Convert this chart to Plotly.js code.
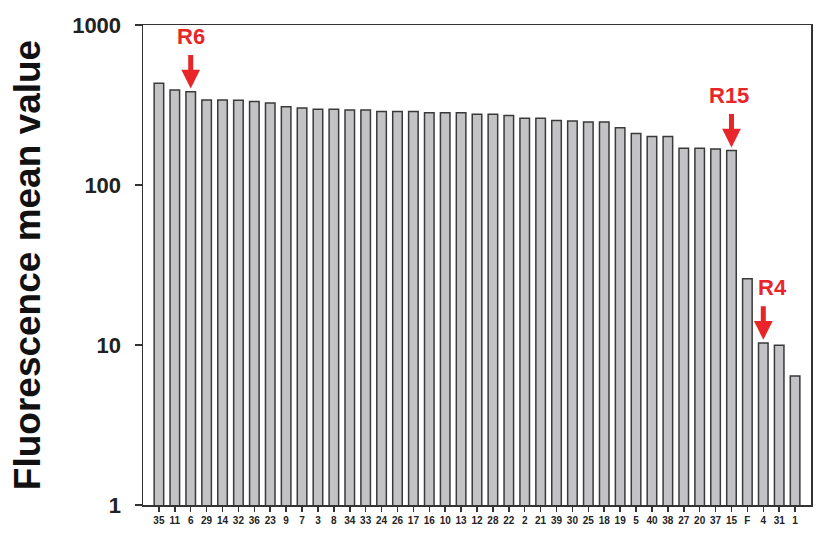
<!DOCTYPE html>
<html>
<head>
<meta charset="utf-8">
<script src="https://cdn.plot.ly/plotly-3.0.1.min.js"></script>
<style>html,body{margin:0;padding:0;background:#fff;}#chart{width:816px;height:534px;}</style>
</head>
<body>
<div id="chart"></div>
<script>
const categories = ["35","11","6","29","14","32","36","23","9","7","3","8","34","33","24","26","17","16","10","13","12","28","22","2","21","39","30","25","18","19","5","40","38","27","20","37","15","F","4","31","1"];
const values = [432,392,383,340,340,338,333,326,308,303,298,298,294,294,288,288,288,283,283,283,277,277,272,261,261,253,251,248,248,228,210,201,201,170,170,168,164,25.9,10.3,9.95,6.4];
const yTickVals = [1,10,100,1000];
const yTickText = ["1","10","100","1000"];
const marked = [
  {cat:"6", label:"R6", dx:0},
  {cat:"15", label:"R15", dx:-2},
  {cat:"4", label:"R4", dx:9}
];

const red = "#e8262a";
const annotations = [];
marked.forEach(m => {
  const idx = categories.indexOf(m.cat);
  const v = values[idx];
  const tip = Math.log10(v) + 0.02;
  annotations.push({
    x: idx, y: tip, xref: "x", yref: "y",
    showarrow: true, arrowhead: 2, arrowsize: 0.75, arrowwidth: 5,
    arrowcolor: red, ax: 0, ay: -35, text: ""
  });
  annotations.push({
    x: idx, y: tip, xref: "x", yref: "y",
    showarrow: false, text: "<b>" + m.label + "</b>",
    yshift: 52, xshift: m.dx,
    font: {family: "Liberation Sans, Arial, sans-serif", size: 22, color: red}
  });
});

const trace = {
  type: "bar",
  x: categories,
  y: values,
  marker: {color: "#c3c3c5", line: {color: "#3a3a3a", width: 1.5}},
  hoverinfo: "x+y"
};

const layout = {
  width: 816, height: 534,
  margin: {l: 143, r: 5, t: 25, b: 29},
  paper_bgcolor: "#fff", plot_bgcolor: "#fff",
  bargap: 0.4,
  showlegend: false,
  font: {family: "Liberation Sans, Arial, sans-serif", color: "#222"},
  xaxis: {
    type: "category", range: [-1, categories.length],
    showline: true, linecolor: "#333", linewidth: 1.5, mirror: true,
    ticks: "outside", ticklen: 5, tickcolor: "#333", tickwidth: 1.5,
    tickfont: {size: 10, color: "#222", family: "Liberation Sans, Arial, sans-serif", weight: "bold"},
    showgrid: false, zeroline: false
  },
  yaxis: {
    type: "log", range: [0, 3],
    tickmode: "array", tickvals: yTickVals, ticktext: yTickText,
    showline: true, linecolor: "#333", linewidth: 1.5, mirror: true,
    ticks: "outside", ticklen: 7, tickcolor: "#333", tickwidth: 1.5,
    ticklabelstandoff: 9,
    tickfont: {size: 22, color: "#222", family: "Liberation Sans, Arial, sans-serif", weight: "bold"},
    showgrid: false, zeroline: false,
    title: {text: "<b>Fluorescence mean value</b>", standoff: 20,
      font: {size: 37, color: "#111", family: "Liberation Sans, Arial, sans-serif"}}
  },
  annotations: annotations
};

Plotly.newPlot("chart", [trace], layout, {displayModeBar: false, staticPlot: true});
</script>
</body>
</html>
